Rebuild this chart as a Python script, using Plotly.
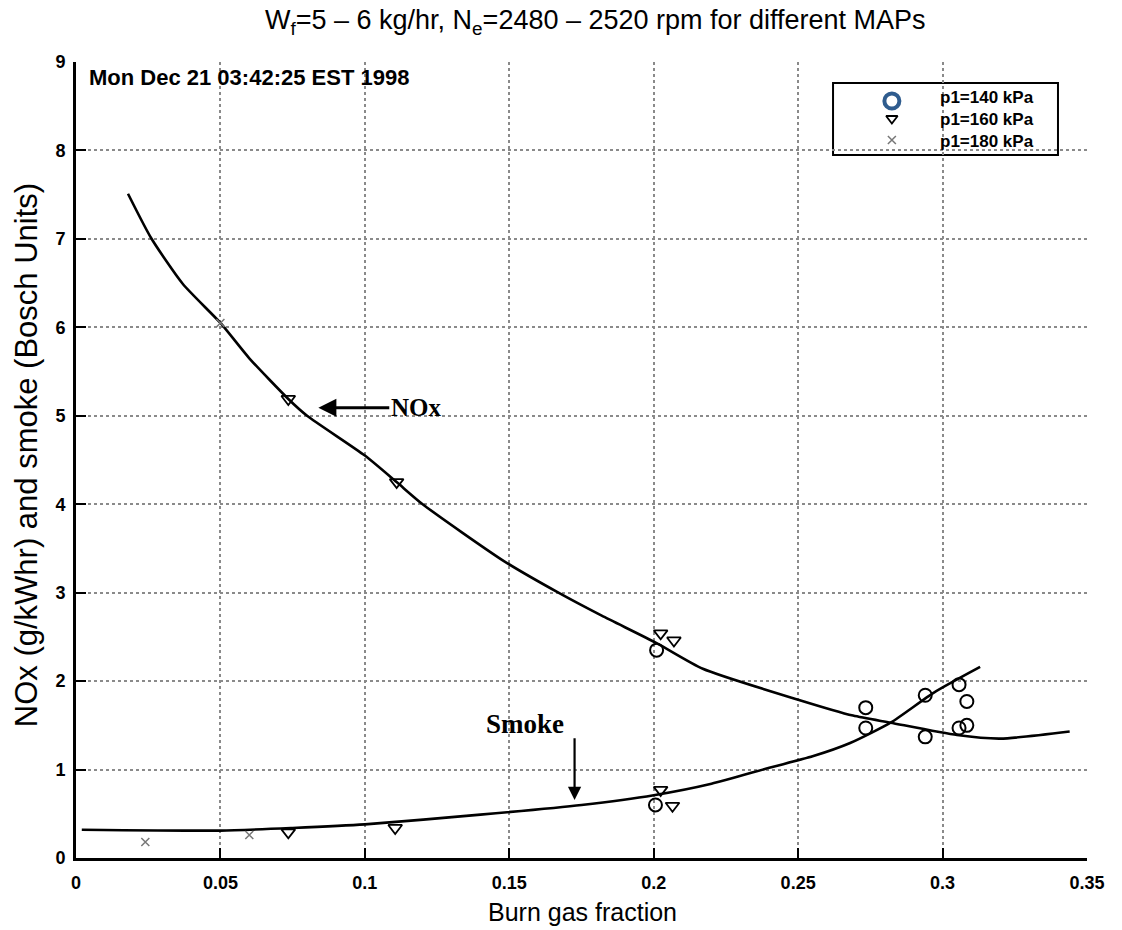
import plotly.graph_objects as go

# ---- data -------------------------------------------------------------
# fitted NOx curve (g/kWhr) vs burn gas fraction
nox_fit_x = [0.018, 0.026, 0.037, 0.050, 0.060, 0.0735, 0.080, 0.100, 0.111,
             0.120, 0.148, 0.167, 0.182, 0.201, 0.217, 0.250, 0.269, 0.282,
             0.305, 0.320, 0.344]
nox_fit_y = [7.51, 7.01, 6.49, 6.05, 5.65, 5.19, 5.00, 4.55, 4.25,
             4.00, 3.36, 3.00, 2.74, 2.43, 2.14, 1.79, 1.61, 1.53,
             1.39, 1.35, 1.43]

# fitted smoke curve (Bosch units) vs burn gas fraction
smoke_fit_x = [0.002, 0.050, 0.075, 0.100, 0.140, 0.175, 0.200, 0.220,
               0.240, 0.255, 0.268, 0.282, 0.297, 0.313]
smoke_fit_y = [0.32, 0.31, 0.34, 0.38, 0.49, 0.60, 0.71, 0.84,
               1.02, 1.15, 1.30, 1.53, 1.87, 2.16]

# measured points, p1 = 140 kPa
p140_x = [0.2010, 0.2006, 0.2734, 0.2734, 0.2940, 0.2940, 0.3057, 0.3084, 0.3057, 0.3084]
p140_y = [2.35, 0.60, 1.70, 1.47, 1.84, 1.37, 1.96, 1.77, 1.47, 1.50]

# measured points, p1 = 160 kPa
p160_x = [0.0735, 0.1110, 0.2024, 0.2070, 0.0735, 0.1105, 0.2024, 0.2065]
p160_y = [5.19, 4.25, 2.54, 2.46, 0.29, 0.34, 0.77, 0.59]

# measured points, p1 = 180 kPa
p180_x = [0.050, 0.024, 0.060]
p180_y = [6.05, 0.18, 0.26]

legend_labels = ["p1=140 kPa", "p1=160 kPa", "p1=180 kPa"]

x_ticks = [0, 0.05, 0.1, 0.15, 0.2, 0.25, 0.3, 0.35]
x_ticktext = ["0", "0.05", "0.1", "0.15", "0.2", "0.25", "0.3", "0.35"]
y_ticks = [0, 1, 2, 3, 4, 5, 6, 7, 8, 9]

# ---- figure -----------------------------------------------------------
fig = go.Figure()

curve_line = dict(color="black", width=2.6, shape="spline", smoothing=0.6)
fig.add_trace(go.Scatter(x=nox_fit_x, y=nox_fit_y, mode="lines",
                         line=curve_line, showlegend=False))
fig.add_trace(go.Scatter(x=smoke_fit_x, y=smoke_fit_y, mode="lines",
                         line=curve_line, showlegend=False))

fig.add_trace(go.Scatter(x=p140_x, y=p140_y, mode="markers", showlegend=False,
                         marker=dict(symbol="circle-open", size=13, color="black",
                                     line=dict(color="black", width=2))))
fig.add_trace(go.Scatter(x=p160_x, y=p160_y, mode="markers", showlegend=False,
                         marker=dict(symbol="triangle-down-open", size=12,
                                     color="black",
                                     line=dict(color="black", width=1.8))))
fig.add_trace(go.Scatter(x=p180_x, y=p180_y, mode="markers", showlegend=False,
                         marker=dict(symbol="x-thin-open", size=8, color="#777777",
                                     line=dict(color="#777777", width=1.5))))

# key glyphs, drawn on a hidden 0..1 overlay axis pair
key_x = 0.807
key_rows = [0.951, 0.929, 0.902]
fig.add_trace(go.Scatter(x=[key_x], y=[key_rows[0]], xaxis="x2", yaxis="y2",
                         mode="markers", showlegend=False, hoverinfo="skip",
                         marker=dict(symbol="circle-open", size=15, color="#2F5C8E",
                                     line=dict(color="#2F5C8E", width=4))))
fig.add_trace(go.Scatter(x=[key_x], y=[key_rows[1]], xaxis="x2", yaxis="y2",
                         mode="markers", showlegend=False, hoverinfo="skip",
                         marker=dict(symbol="triangle-down-open", size=10,
                                     color="black",
                                     line=dict(color="black", width=1.8))))
fig.add_trace(go.Scatter(x=[key_x], y=[key_rows[2]], xaxis="x2", yaxis="y2",
                         mode="markers", showlegend=False, hoverinfo="skip",
                         marker=dict(symbol="x-thin-open", size=8, color="#777777",
                                     line=dict(color="#777777", width=1.5))))

# key box
fig.add_shape(type="rect", xref="paper", yref="paper",
              x0=0.7488, x1=0.9713, y0=0.8832, y1=0.9736,
              line=dict(color="black", width=2), fillcolor="white",
              layer="between")

annotations = []
# key labels as one three-line block
annotations.append(dict(text="<br>".join("<b>" + lbl + "</b>" for lbl in legend_labels),
                        xref="paper", yref="paper", x=0.8526, y=0.9275,
                        xanchor="left", yanchor="middle", align="left",
                        showarrow=False,
                        font=dict(family="Liberation Sans, Arial", size=17,
                                  color="black")))

# timestamp
annotations.append(dict(text="<b>Mon Dec 21 03:42:25 EST 1998</b>",
                        xref="paper", yref="paper", x=0.011, y=0.981,
                        xanchor="left", yanchor="middle", showarrow=False,
                        font=dict(family="Liberation Sans, Arial", size=22,
                                  color="black")))

# curve labels and arrows
annotations.append(dict(text="<b>NOx</b>", x=0.0839, y=5.09, ax=0.1178, ay=5.09,
                        axref="x", ayref="y", showarrow=True, arrowhead=2,
                        arrowsize=1.2, arrowwidth=3, arrowcolor="black",
                        font=dict(family="Liberation Serif, Times New Roman",
                                  size=25, color="black")))
annotations.append(dict(text="<b>Smoke</b>", x=0.1556, y=1.51, xanchor="center",
                        yanchor="middle", showarrow=False,
                        font=dict(family="Liberation Serif, Times New Roman",
                                  size=27, color="black")))
annotations.append(dict(text="", x=0.1726, y=0.655, ax=0.1726, ay=1.37,
                        axref="x", ayref="y", showarrow=True, arrowhead=2,
                        arrowsize=1.2, arrowwidth=2.2, arrowcolor="black"))

# titles
annotations.append(dict(text="W<sub>f</sub>=5 – 6 kg/hr, N<sub>e</sub>=2480 – 2520 rpm for different MAPs",
                        xref="paper", yref="paper", x=0.5143, y=1.050,
                        xanchor="center", yanchor="middle", showarrow=False,
                        font=dict(family="Liberation Sans, Arial", size=27,
                                  color="black")))
annotations.append(dict(text="Burn gas fraction", xref="paper", yref="paper",
                        x=0.5005, y=-0.0678, xanchor="center", yanchor="middle",
                        showarrow=False,
                        font=dict(family="Liberation Sans, Arial", size=25,
                                  color="black")))
annotations.append(dict(text="NOx (g/kWhr) and smoke (Bosch Units)",
                        xref="paper", yref="paper", x=-0.0495, y=0.506,
                        xanchor="center", yanchor="middle", textangle=-90,
                        showarrow=False,
                        font=dict(family="Liberation Sans, Arial", size=31,
                                  color="black")))

tick_font = dict(family="Liberation Sans, Arial", size=18, color="black",
                 weight="bold")
grid = dict(showgrid=True, gridcolor="#8a8a8a", gridwidth=1.6, griddash="dot")

fig.update_layout(
    width=1122, height=930,
    margin=dict(l=76, r=35, t=62, b=72),
    paper_bgcolor="white", plot_bgcolor="white",
    showlegend=False,
    annotations=annotations,
    xaxis=dict(range=[0, 0.35], tickvals=x_ticks, ticktext=x_ticktext,
               ticks="inside", ticklen=10, tickwidth=2, tickcolor="black",
               showline=True, linecolor="black", linewidth=3, mirror=False,
               zeroline=False, tickfont=tick_font, ticklabelstandoff=6, **grid),
    yaxis=dict(range=[0, 9], tickvals=y_ticks,
               ticks="inside", ticklen=10, tickwidth=2, tickcolor="black",
               showline=True, linecolor="black", linewidth=3, mirror=False,
               zeroline=False, tickfont=tick_font, ticklabelstandoff=4, **grid),
    xaxis2=dict(range=[0, 1], overlaying="x", visible=False),
    yaxis2=dict(range=[0, 1], overlaying="y", visible=False),
)

fig.write_html("out.html")
